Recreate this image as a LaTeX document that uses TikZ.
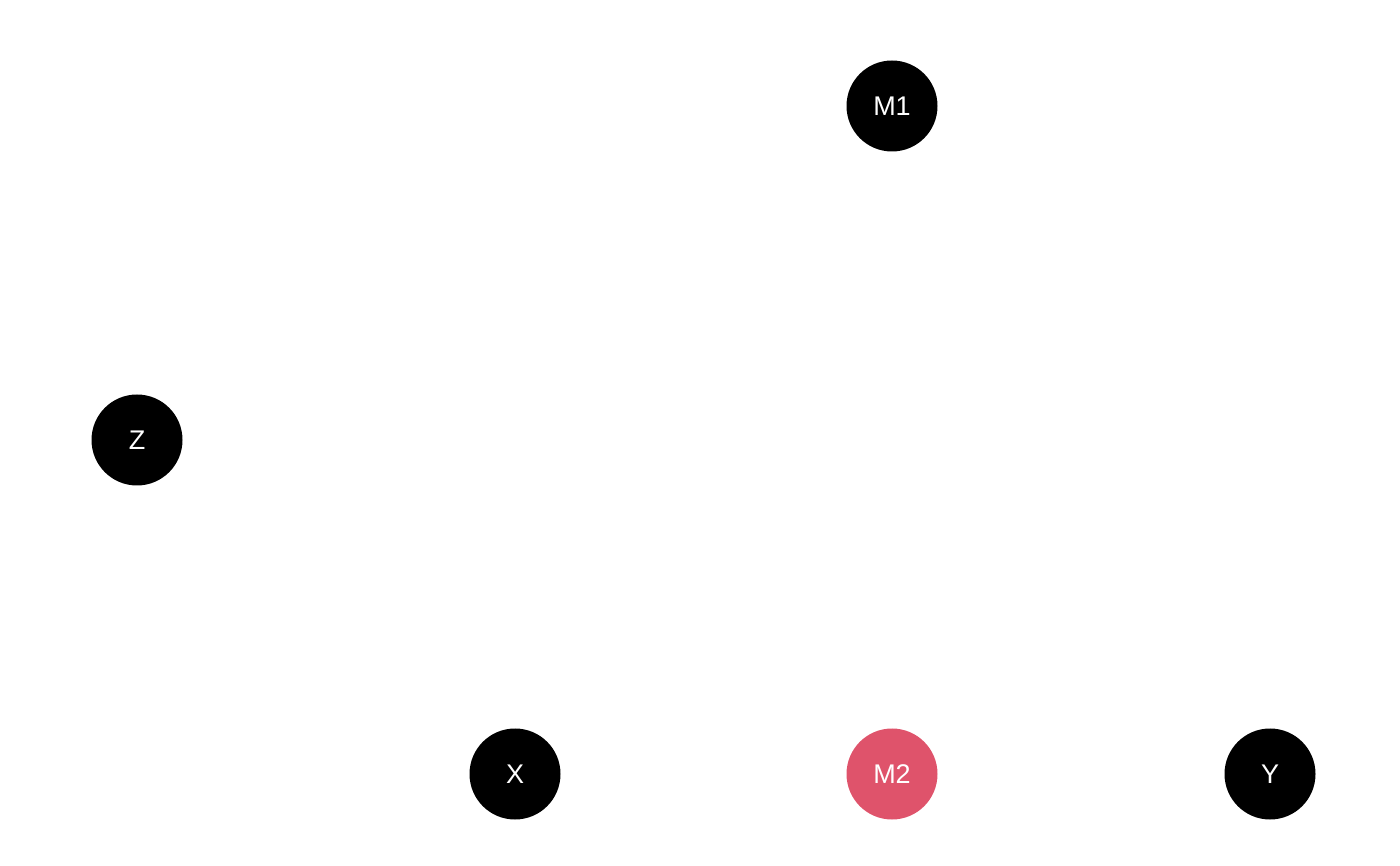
\documentclass[tikz,border=0pt]{standalone}
\usepackage{fontspec}
\setmainfont{Liberation Sans}
\definecolor{nodered}{HTML}{DF536B}
\begin{document}
\begin{tikzpicture}[x=1pt,y=1pt,
  dagnode/.style={circle,fill=black,minimum size=91pt,inner sep=0pt,text=white,font=\fontsize{27}{30}\selectfont},
  rednode/.style={dagnode,fill=nodered}]
\useasboundingbox (0,0) rectangle (1400,865);
\node[dagnode] (Z)  at (137,425) {Z};
\node[dagnode] (M1) at (892,759) {M1};
\node[dagnode] (X)  at (515,91) {X};
\node[rednode] (M2) at (892,91) {M2};
\node[dagnode] (Y)  at (1270,91) {Y};
\end{tikzpicture}
\end{document}
